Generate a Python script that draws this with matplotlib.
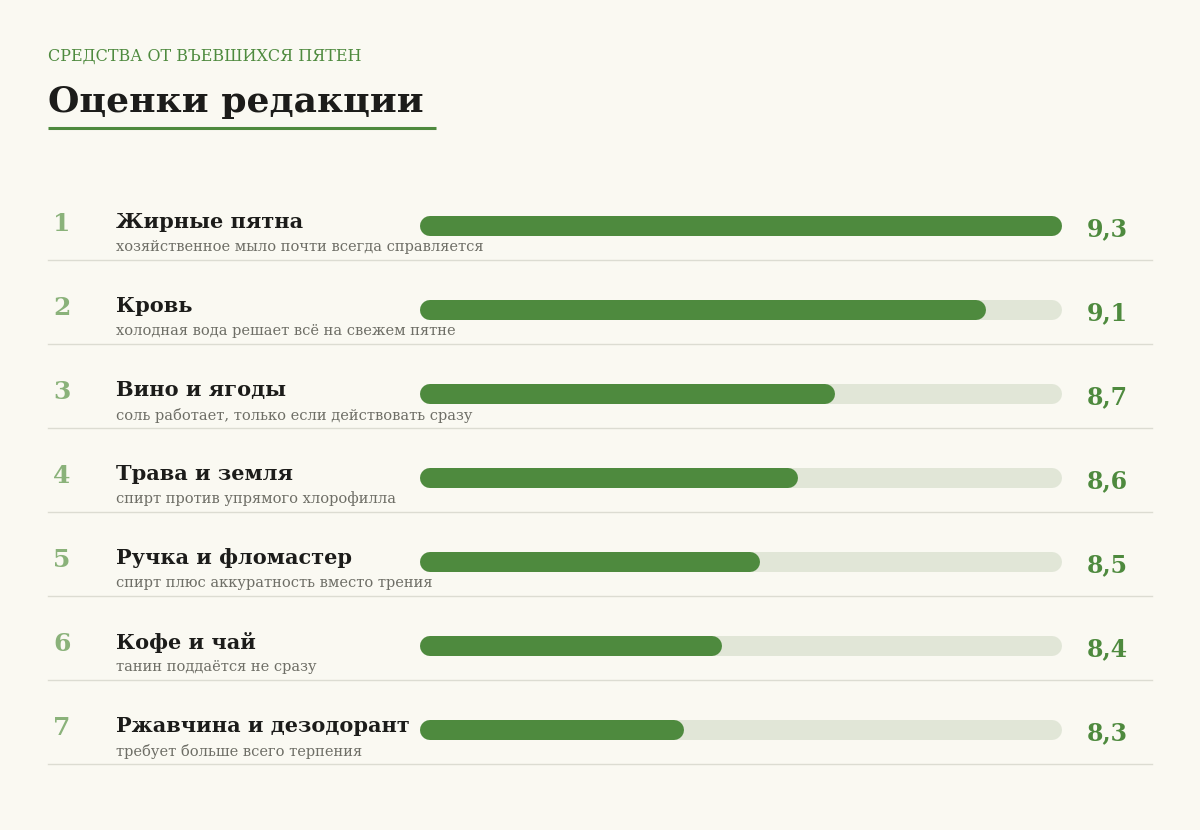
import matplotlib
matplotlib.use("Agg")
import matplotlib.pyplot as plt

names = ["Жирные пятна", "Кровь", "Вино и ягоды", "Трава и земля",
         "Ручка и фломастер", "Кофе и чай", "Ржавчина и дезодорант"]
notes = ["хозяйственное мыло почти всегда справляется",
         "холодная вода решает всё на свежем пятне",
         "соль работает, только если действовать сразу",
         "спирт против упрямого хлорофилла",
         "спирт плюс аккуратность вместо трения",
         "танин поддаётся не сразу",
         "требует больше всего терпения"]
scores = [9.3, 9.1, 8.7, 8.6, 8.5, 8.4, 8.3]
labels = ["9,3", "9,1", "8,7", "8,6", "8,5", "8,4", "8,3"]

W, H = 1200, 830
BG = "#faf9f2"; GREEN = "#4e8a3e"; TRACK = "#e1e6d7"; DARK = "#1c1c1a"
SERIF = ["DejaVu Serif", "Liberation Serif"]

fig = plt.figure(figsize=(12, 8.3), dpi=100, facecolor=BG)
ax = fig.add_axes([0, 0, 1, 1]); ax.set_xlim(0, W); ax.set_ylim(H, 0); ax.axis("off")

ax.text(48, 56, "СРЕДСТВА ОТ ВЪЕВШИХСЯ ПЯТЕН", color=GREEN, fontsize=11.5,
        family=SERIF, va="center")
ax.text(48, 102, "Оценки редакции", color=DARK, fontsize=26, weight="bold",
        family=SERIF, va="center")
ax.plot([48, 436], [128, 128], color=GREEN, lw=2.2, solid_capstyle="butt")

x0, x1 = 420, 1062
lo, hi = 7.6, 9.3
bx = fig.add_axes([x0 / W, 0, (x1 - x0) / W, 1])
bx.set_xlim(lo, hi); bx.set_ylim(H, 0); bx.axis("off")
r = (hi - lo) / (x1 - x0) * 10
for i, (n, s, v, lab) in enumerate(zip(names, notes, scores, labels)):
    y = 226 + 84 * i
    ax.text(62, y - 2, str(i + 1), color="#8ab27a", fontsize=18, weight="bold",
            family=SERIF, ha="center", va="center")
    ax.text(116, y - 4, n, color=DARK, fontsize=15, weight="bold", family=SERIF,
            va="center", zorder=5)
    ax.text(116, y + 21, s, color="#6e6e66", fontsize=10.5, family=SERIF, va="center")
    ax.text(1128, y + 3, lab, color=GREEN, fontsize=17, weight="bold", family=SERIF,
            ha="right", va="center")
    ax.plot([48, 1152], [y + 34, y + 34], color="#dcdcd2", lw=1)
    bx.plot([lo + r, hi - r], [y, y], color=TRACK, lw=14.4, solid_capstyle="round")
    bx.plot([lo + r, v - r], [y, y], color=GREEN, lw=14.4, solid_capstyle="round")

fig.savefig("out.png", dpi=100, facecolor=BG)
